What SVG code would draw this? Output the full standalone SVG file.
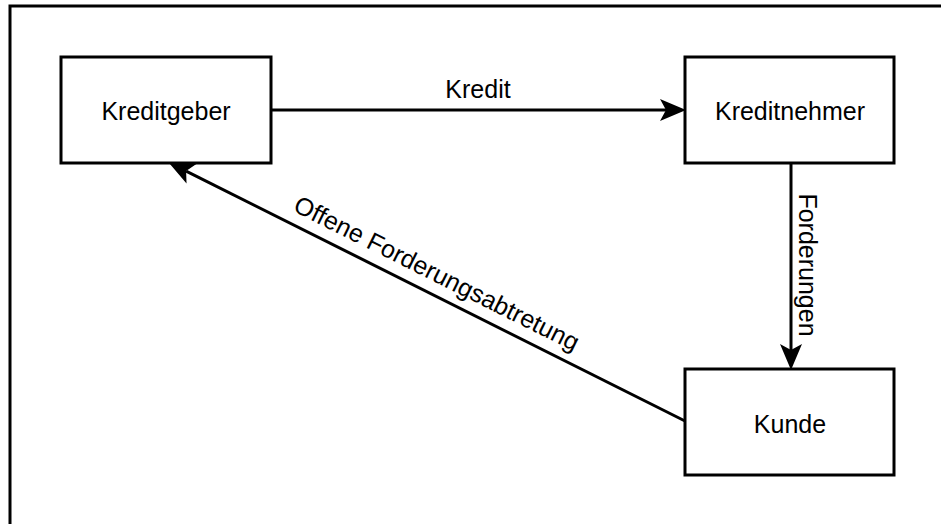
<svg xmlns="http://www.w3.org/2000/svg" width="941" height="524" viewBox="0 0 941 524">
  <style>
    .box { fill: #ffffff; stroke: #000000; stroke-width: 3; }
    .frame { fill: none; stroke: #000000; stroke-width: 3; }
    .edge { fill: none; stroke: #000000; stroke-width: 3; }
    .label { font-family: "Liberation Sans", Arial, Helvetica, sans-serif; font-size: 25px; fill: #000000; }
  </style>
  <defs>
    <!-- filled arrowhead with a shallow notch; line ends just past the notch -->
    <marker id="arrow" markerUnits="userSpaceOnUse" viewBox="-8 -12 28 24" markerWidth="28" markerHeight="24" refX="-2" refY="0" orient="auto" overflow="visible">
      <path d="M18,0 L-8,-11 L-2,0 L-8,11 Z" fill="#000000"/>
    </marker>
  </defs>

  <rect width="941" height="524" fill="#ffffff"/>

  <!-- outer frame, open to the right and bottom -->
  <rect class="frame" x="10" y="6" width="1000" height="1000"/>

  <g id="connectors">
    <g id="edge-kredit">
      <line class="edge" x1="272" y1="110" x2="666" y2="110" marker-end="url(#arrow)"/>
      <text class="label" x="478" y="98" text-anchor="middle">Kredit</text>
    </g>
    <g id="edge-forderungen">
      <line class="edge" x1="791" y1="164" x2="791" y2="350" marker-end="url(#arrow)"/>
      <text class="label" transform="translate(799,265) rotate(90)" text-anchor="middle">Forderungen</text>
    </g>
    <g id="edge-abtretung">
      <line class="edge" x1="685" y1="421" x2="186.1" y2="171.05" marker-end="url(#arrow)"/>
      <text class="label" transform="translate(433,281) rotate(26.565)" text-anchor="middle">Offene Forderungsabtretung</text>
    </g>
  </g>

  <g id="node-kreditgeber">
    <rect class="box" x="61" y="57" width="210" height="106"/>
    <text class="label" x="166" y="119.5" text-anchor="middle">Kreditgeber</text>
  </g>
  <g id="node-kreditnehmer">
    <rect class="box" x="685" y="57" width="209" height="106"/>
    <text class="label" x="790" y="119.5" text-anchor="middle">Kreditnehmer</text>
  </g>
  <g id="node-kunde">
    <rect class="box" x="685" y="369" width="209" height="106"/>
    <text class="label" x="790" y="432.5" text-anchor="middle">Kunde</text>
  </g>
</svg>
